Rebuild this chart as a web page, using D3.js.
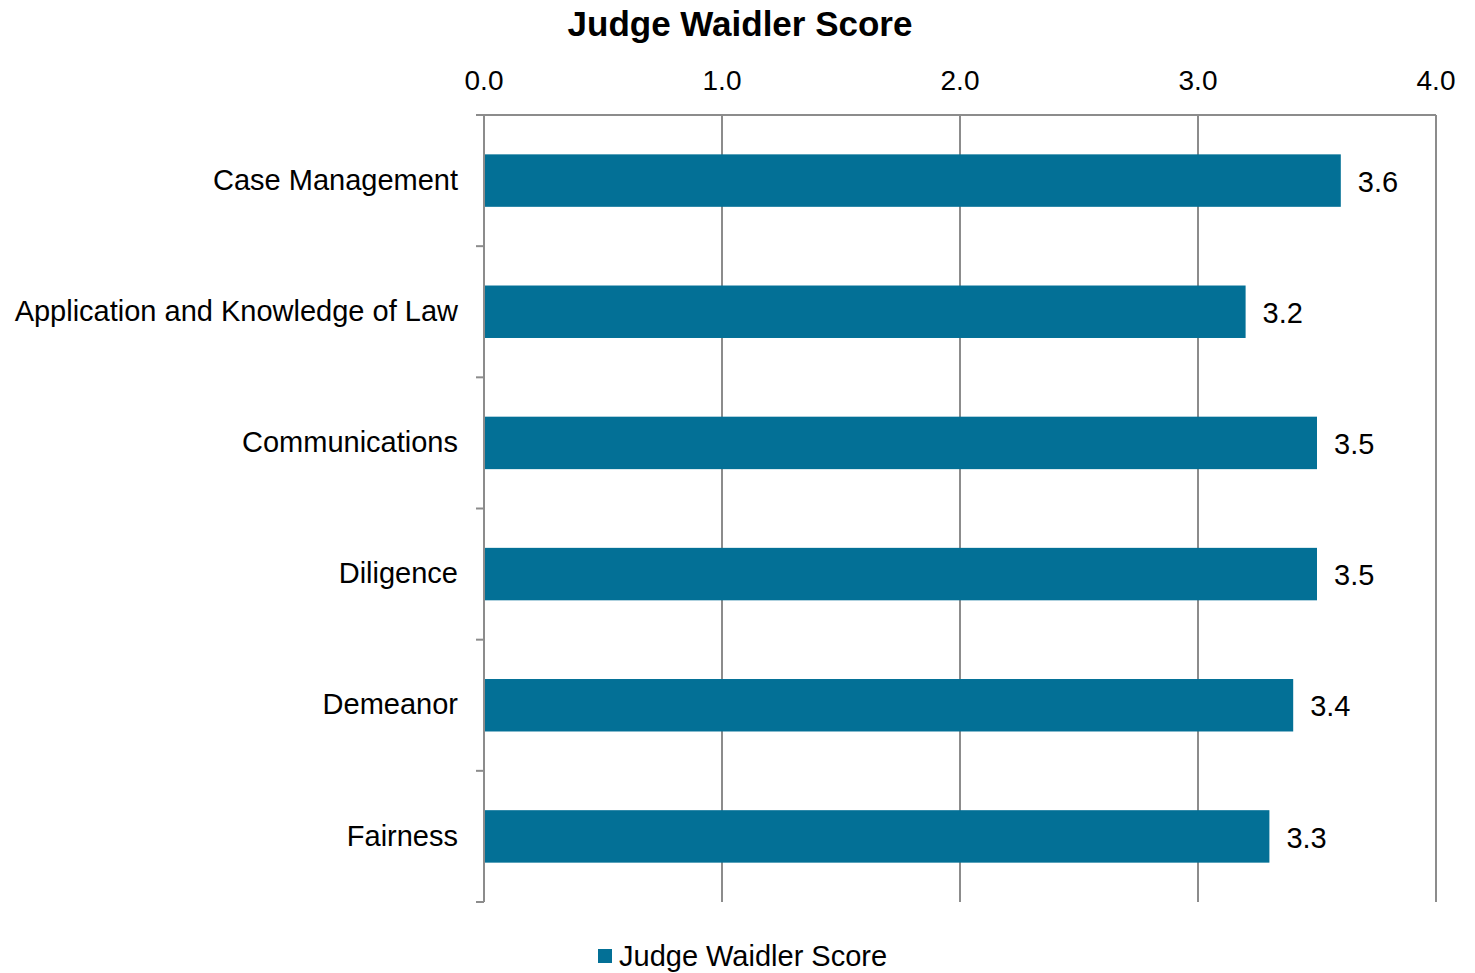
<!DOCTYPE html>
<html>
<head>
<meta charset="utf-8">
<script src="https://cdn.jsdelivr.net/npm/d3@7"></script>
<style>
body{margin:0;background:#fff;}
svg text{font-family:"Liberation Sans",Arial,sans-serif;fill:#000;}
</style>
</head>
<body>
<svg id="chart" width="1475" height="973"></svg>
<script>
const categories = ["Case Management","Application and Knowledge of Law","Communications","Diligence","Demeanor","Fairness"];
const values = [3.6,3.2,3.5,3.5,3.4,3.3];
const ticks = [0,1,2,3,4];
const seriesName = "Judge Waidler Score";
const title = "Judge Waidler Score";

(function(){
const svg = d3.select("#chart");
const pL = 484, pR = 1436, pT = 115, pB = 902;
const barColor = "#037096", gridColor = "#8c8c8c";

const x = d3.scaleLinear().domain([0,4]).range([pL,pR]);
const y = d3.scaleBand().domain(categories).range([pT,pB]).paddingInner(0.6).paddingOuter(0.3);

svg.append("g").selectAll("line").data(ticks.filter(t=>t>0)).join("line")
  .attr("x1",d=>x(d)).attr("x2",d=>x(d)).attr("y1",pT).attr("y2",pB)
  .attr("stroke",gridColor).attr("stroke-width",2);

svg.append("line").attr("x1",pL-8).attr("x2",pR).attr("y1",pT).attr("y2",pT)
  .attr("stroke",gridColor).attr("stroke-width",2);

svg.append("g").selectAll("text").data(ticks).join("text")
  .attr("x",d=>x(d)).attr("y",90).attr("text-anchor","middle")
  .attr("font-size",28).text(d=>d.toFixed(1));

svg.append("g").selectAll("rect").data(values).join("rect")
  .attr("x",x(0)).attr("y",(d,i)=>y(categories[i]))
  .attr("width",d=>x(d)-x(0)).attr("height",y.bandwidth())
  .attr("fill",barColor);

svg.append("line").attr("x1",pL).attr("x2",pL).attr("y1",pT).attr("y2",pB)
  .attr("stroke",gridColor).attr("stroke-width",2);
const bounds = d3.range(categories.length+1).map(i=>pT+i*(pB-pT)/categories.length);
svg.append("g").selectAll("line").data(bounds).join("line")
  .attr("x1",pL-8).attr("x2",pL).attr("y1",d=>d).attr("y2",d=>d)
  .attr("stroke",gridColor).attr("stroke-width",2);

svg.append("g").selectAll("text").data(categories).join("text")
  .attr("x",458).attr("y",d=>y(d)+y.bandwidth()/2-1).attr("dy","0.35em")
  .attr("text-anchor","end").attr("font-size",29).text(d=>d);

svg.append("g").selectAll("text").data(values).join("text")
  .attr("x",d=>x(d)+17).attr("y",(d,i)=>y(categories[i])+y.bandwidth()/2+1).attr("dy","0.35em")
  .attr("font-size",29).text(d=>d.toFixed(1));

svg.append("text").attr("x",740).attr("y",36).attr("text-anchor","middle")
  .attr("font-size",35).attr("font-weight","bold").text(title);

svg.append("rect").attr("x",598).attr("y",949).attr("width",14).attr("height",14).attr("fill",barColor);
svg.append("text").attr("x",619).attr("y",966).attr("font-size",29).text(seriesName);
})();
</script>
</body>
</html>
